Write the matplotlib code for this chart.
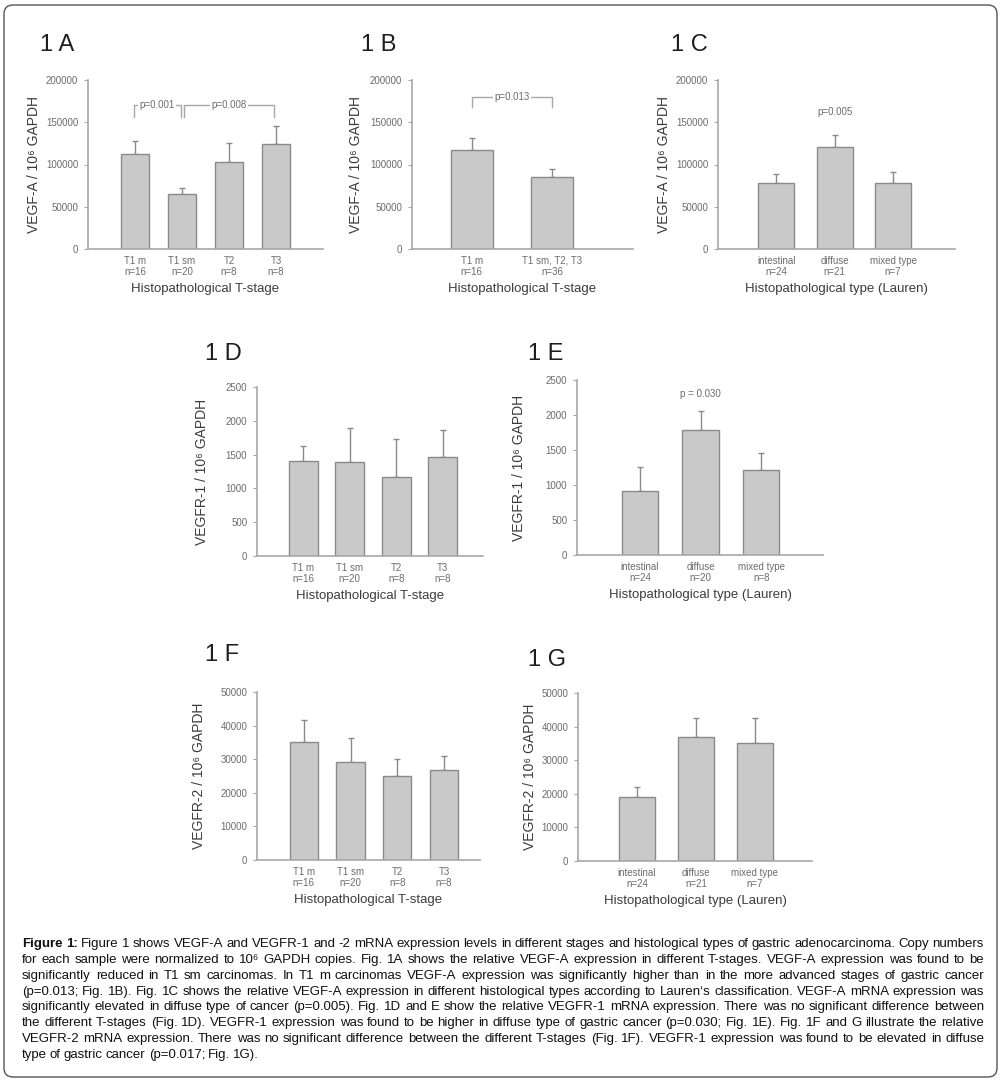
import matplotlib
matplotlib.use('Agg')
import matplotlib.pyplot as plt
from matplotlib.patches import FancyBboxPatch
from matplotlib.transforms import IdentityTransform

W, H = 1001, 1082
FONT = ['Liberation Sans', 'DejaVu Sans']
plt.rcParams['font.family'] = FONT

# ---- data ----
stage_cats = ['T1 m', 'T1 sm', 'T2', 'T3']
stage_n = ['n=16', 'n=20', 'n=8', 'n=8']
lauren_cats = ['intestinal', 'diffuse', 'mixed type']

a_vals = [113000, 65000, 103000, 124000]
a_err = [15000, 7000, 23000, 21500]

b_cats = ['T1 m', 'T1 sm, T2, T3']
b_n = ['n=16', 'n=36']
b_vals = [117000, 85000]
b_err = [14000, 10000]

c_n = ['n=24', 'n=21', 'n=7']
c_vals = [78000, 121000, 78000]
c_err = [11000, 14000, 13000]

d_vals = [1405, 1390, 1170, 1465]
d_err = [220, 500, 560, 400]

e_n = ['n=24', 'n=20', 'n=8']
e_vals = [915, 1785, 1215]
e_err = [340, 270, 245]

f_vals = [35000, 29200, 25000, 26800]
f_err = [6700, 7000, 5000, 4200]

g_n = ['n=24', 'n=21', 'n=7']
g_vals = [19000, 37000, 35000]
g_err = [3000, 5500, 7500]

vegfa_ticks = [0, 50000, 100000, 150000, 200000]
vegfr1_ticks = [0, 500, 1000, 1500, 2000, 2500]
vegfr2_ticks = [0, 10000, 20000, 30000, 40000, 50000]

BAR = '#c9c9c9'
EDGE = '#8a8a8a'
AXC = '#a8a8a8'
TXT = '#3c3c3c'
TICKC = '#6c6c6c'


def px_axes(fig, x0, x1, ybot, ytop):
    """Axes from pixel coordinates (top-left origin)."""
    return fig.add_axes([x0 / W, 1 - ybot / H, (x1 - x0) / W, (ybot - ytop) / H])


def draw_panel(ax, cats, ns, vals, errs, ticks, xlim, width, ylabel, xlabel, ylab_off):
    x = list(range(1, len(cats) + 1))
    ax.bar(x, vals, width=width, color=BAR, edgecolor=EDGE, linewidth=1.0, zorder=2)
    ax.errorbar(x, vals, yerr=[[0] * len(errs), errs], fmt='none', ecolor=EDGE,
                elinewidth=1.0, capsize=2, capthick=1.0, zorder=1)
    ax.set_xlim(*xlim)
    ax.set_ylim(ticks[0], ticks[-1])
    ax.set_yticks(ticks)
    ax.set_yticklabels([str(t) for t in ticks])
    ax.set_xticks(x)
    ax.set_xticklabels([f'{c}\n{n}' for c, n in zip(cats, ns)], linespacing=1.15)
    for s in ['top', 'right']:
        ax.spines[s].set_visible(False)
    for s in ['left', 'bottom']:
        ax.spines[s].set_color(AXC)
        ax.spines[s].set_linewidth(1.2)
    ax.spines['bottom'].set_zorder(3)
    ax.tick_params(axis='y', length=3, color=AXC, labelsize=7, labelcolor=TICKC, pad=4)
    ax.tick_params(axis='x', length=0, labelsize=7, labelcolor=TICKC, pad=5)
    ax.set_ylabel(ylabel, fontsize=10, color=TXT, va='center')
    ax_w = ax.get_position().width * W
    ax.yaxis.set_label_coords(-ylab_off / ax_w, 0.5)
    ax.set_xlabel(xlabel, fontsize=9.5, color=TXT, labelpad=4)
    ax.set_facecolor('none')


def bracket(ax, x0, x1, ytop, ybot, label, lx=None):
    ax.plot([x0, x0, x1, x1], [ybot, ytop, ytop, ybot], color=AXC, lw=1.0,
            clip_on=False, zorder=1)
    if lx is None:
        lx = (x0 + x1) / 2
    ax.text(lx, ytop, label, ha='center', va='center', fontsize=7, color=TICKC,
            bbox=dict(facecolor='white', edgecolor='none', pad=1.0), zorder=2)


fig = plt.figure(figsize=(W / 100, H / 100), dpi=100)
fig.patch.set_facecolor('white')

ylab_a = 'VEGF-A / 10\u2076 GAPDH'
ylab_r1 = 'VEGFR-1 / 10\u2076 GAPDH'
ylab_r2 = 'VEGFR-2 / 10\u2076 GAPDH'
xlab_t = 'Histopathological T-stage'
xlab_l = 'Histopathological type (Lauren)'

# 1A
ax = px_axes(fig, 88, 323, 249, 80)
draw_panel(ax, stage_cats, stage_n, a_vals, a_err, vegfa_ticks, (0, 5), 0.6, ylab_a, xlab_t, 54)
bracket(ax, 0.98, 1.97, 170000, 156000, 'p=0.001')
bracket(ax, 2.05, 3.95, 170000, 156000, 'p=0.008')

# 1B
ax = px_axes(fig, 412, 633, 249, 80)
draw_panel(ax, b_cats, b_n, b_vals, b_err, vegfa_ticks, (0.26, 3.0), 0.52, ylab_a, xlab_t, 56)
bracket(ax, 1.0, 1.99, 180000, 168000, 'p=0.013')

# 1C
ax = px_axes(fig, 718, 955, 249, 80)
draw_panel(ax, lauren_cats, c_n, c_vals, c_err, vegfa_ticks, (0, 4.06), 0.62, ylab_a, xlab_l, 54)
ax.text(2, 162000, 'p=0.005', ha='center', va='center', fontsize=7, color=TICKC)

# 1D
ax = px_axes(fig, 257, 483, 556, 387)
draw_panel(ax, stage_cats, stage_n, d_vals, d_err, vegfr1_ticks, (0, 4.87), 0.62, ylab_r1, xlab_t, 55)

# 1E
ax = px_axes(fig, 577, 823, 555, 380)
draw_panel(ax, lauren_cats, e_n, e_vals, e_err, vegfr1_ticks, (-0.04, 4.02), 0.6, ylab_r1, xlab_l, 58)
ax.text(2, 2300, 'p = 0.030', ha='center', va='center', fontsize=7, color=TICKC)

# 1F
ax = px_axes(fig, 257, 480, 860, 692)
draw_panel(ax, stage_cats, stage_n, f_vals, f_err, vegfr2_ticks, (0, 4.77), 0.6, ylab_r2, xlab_t, 58)

# 1G
ax = px_axes(fig, 578, 812, 861, 693)
draw_panel(ax, lauren_cats, g_n, g_vals, g_err, vegfr2_ticks, (0, 3.97), 0.62, ylab_r2, xlab_l, 48)

# panel titles
titles = [('1 A', 40, 45), ('1 B', 361, 45), ('1 C', 671, 45), ('1 D', 205, 354),
          ('1 E', 528, 354), ('1 F', 205, 655), ('1 G', 528, 660)]
for t, tx, ty in titles:
    fig.text(tx / W, 1 - ty / H, t, fontsize=17, color='#1e1e1e', ha='left', va='center')

# rounded frame
frame = FancyBboxPatch((4, H - 1077), 993, 1072, boxstyle='round,pad=0,rounding_size=9',
                       transform=IdentityTransform(), facecolor='none',
                       edgecolor='#555555', linewidth=1.0)
fig.add_artist(frame)

# caption, justified line by line
caption = [
    'Figure 1: Figure 1 shows VEGF-A and VEGFR-1 and -2 mRNA expression levels in different stages and histological types of gastric adenocarcinoma. Copy numbers',
    'for each sample were normalized to 10\u2076 GAPDH copies. Fig. 1A shows the relative VEGF-A expression in different T-stages. VEGF-A expression was found to be',
    'significantly reduced in T1 sm carcinomas. In T1 m carcinomas VEGF-A expression was significantly higher than in the more advanced stages of gastric cancer',
    '(p=0.013; Fig. 1B). Fig. 1C shows the relative VEGF-A expression in different histological types according to Lauren\u2018s classification. VEGF-A mRNA expression was',
    'significantly elevated in diffuse type of cancer (p=0.005). Fig. 1D and E show the relative VEGFR-1 mRNA expression. There was no significant difference between',
    'the different T-stages (Fig. 1D). VEGFR-1 expression was found to be higher in diffuse type of gastric cancer (p=0.030; Fig. 1E). Fig. 1F and G illustrate the relative',
    'VEGFR-2 mRNA expression. There was no significant difference between the different T-stages (Fig. 1F). VEGFR-1 expression was found to be elevated in diffuse',
    'type of gastric cancer (p=0.017; Fig. 1G).',
]
fig.canvas.draw()
renderer = fig.canvas.get_renderer()
cap_x0, cap_x1 = 22, 984
for i, line in enumerate(caption):
    ypos = 1 - (944 + i * 15.85) / H
    words = line.split(' ')
    texts = []
    for j, w in enumerate(words):
        bold = (i == 0 and j < 2)
        texts.append(fig.text(0, ypos, w, fontsize=9.5, color='#111111', va='center',
                              ha='left', fontweight='bold' if bold else 'normal'))
    widths = [t.get_window_extent(renderer).width for t in texts]
    if i < len(caption) - 1:
        gap = (cap_x1 - cap_x0 - sum(widths)) / (len(words) - 1)
    else:
        gap = 3.0
    xpos = cap_x0
    for t, w in zip(texts, widths):
        t.set_x(xpos / W)
        xpos += w + gap

fig.savefig('out.png', dpi=100, facecolor='white')
